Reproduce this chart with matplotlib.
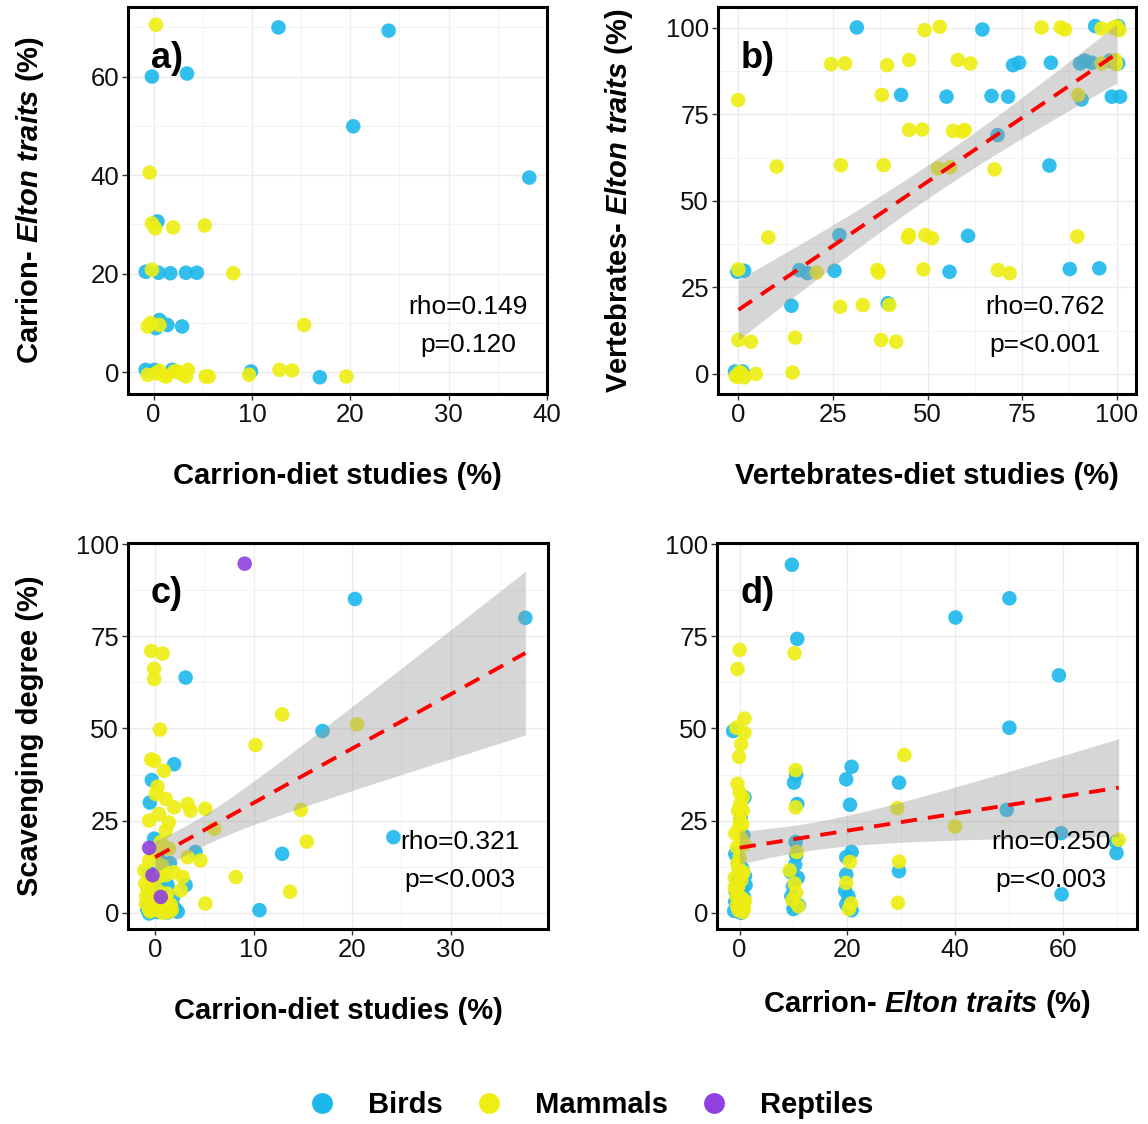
import numpy as np
import matplotlib
matplotlib.use("Agg")
import matplotlib.pyplot as plt
from matplotlib.lines import Line2D
from matplotlib.ticker import MultipleLocator

# ---------------- data (jittered as plotted) -------------
# Panel a: Carrion-diet studies (%) vs Carrion- Elton traits (%)
a_birds_x = [12.7, 23.9, -0.17, 3.4, 20.3, 38.2, 0.4, -0.8, 0.5, 1.7, 3.3, 4.4, 0.6, 0.24, 1.4, 2.9, -0.8, 0.1, 1.9, 9.9, 16.9]
a_birds_y = [69.97, 69.3, 60.0, 60.6, 49.9, 39.5, 30.6, 20.4, 20.2, 20.1, 20.2, 20.2, 10.6, 8.95, 9.6, 9.3, 0.5, 0.5, 0.5, 0.17, -1.0]
a_mamm_x = [0.24, -0.4, -0.17, 0.17, 2.0, 5.2, -0.17, 8.1, -0.6, -0.3, 0.6, 15.3, -0.6, 0.24, 1.27, 2.1, 3.3, 3.5, 5.3, 5.6, 9.7, 12.8, 14.1, 19.6, 0.6, 1.0, 2.4, 2.8]
a_mamm_y = [70.5, 40.5, 30.2, 29.2, 29.4, 29.8, 20.8, 20.1, 9.3, 10.0, 9.6, 9.6, -0.5, -0.2, -0.85, 0.17, -0.85, 0.5, -0.85, -0.85, -0.5, 0.5, 0.37, -0.85, 0.3, -0.6, 0.2, -0.3]

# Panel b: Vertebrates-diet studies (%) vs Vertebrates- Elton traits (%)
b_birds_x = [31.3, 64.5, 94.3, 100.4, 72.6, 74.2, 82.6, 90.3, 91.6, 93.4, 98.2, 100.4, 43.0, 55.0, 66.9, 71.3, 90.7, 98.7, 100.9,
             68.5, 82.2, 26.7, 60.7, -0.3, 1.5, 16.1, 18.3, 25.4, 55.8, 87.6, 95.4, 14.0, 39.5, -0.9, 1.1,
             0.5, -0.5, 100.2, 99.5]
b_birds_y = [100.1, 99.5, 100.5, 100.5, 89.2, 89.9, 89.9, 89.7, 90.5, 89.9, 90.5, 89.7, 80.6, 80.1, 80.3, 80.1, 79.3, 80.1, 80.1,
             69.0, 60.2, 40.1, 39.9, 29.5, 29.8, 30.0, 29.1, 29.8, 29.5, 30.3, 30.5, 19.7, 20.4, 0.7, 0.7,
             0.3, -0.3, 99.7, 90.2]
b_mamm_x = [49.2, 53.2, 80.1, 85.2, 86.3, 96.0, 99.1, 100.7, 24.5, 28.2, 39.3, 45.1, 58.0, 61.3, 96.0, 99.6, -0.1, 37.9, 89.8,
            45.1, 48.6, 56.7, 59.8, 59.1, 10.1, 27.1, 38.4, 52.7, 56.0, 67.7, 7.9, 44.8, 45.1, 49.4, 51.2, 89.6,
            0.0, 20.7, 36.7, 37.0, 48.9, 68.6, 71.7, 26.9, 32.9, 39.9, 0.0, 3.3, 15.0, 37.7, 41.7, -0.7, 1.5, 4.6, 14.3,
            0.3, -0.3, 0.8, 100.0, 99.8]
b_mamm_y = [99.3, 100.3, 100.1, 100.1, 99.5, 99.8, 100.0, 99.3, 89.5, 89.7, 89.2, 90.7, 90.7, 89.7, 89.7, 90.7, 79.1, 80.6, 80.6,
            70.5, 70.6, 70.2, 70.5, 70.0, 59.9, 60.3, 60.3, 59.4, 59.7, 59.1, 39.4, 39.4, 40.1, 40.1, 39.2, 39.7,
            30.2, 29.3, 30.0, 29.3, 30.2, 30.0, 29.1, 19.4, 19.9, 19.9, 9.8, 9.3, 10.5, 9.8, 9.3, -0.6, -1.0, 0.0, 0.4,
            0.5, -0.8, 0.2, 100.4, 89.5]

# Panel c: Carrion-diet studies (%) vs Scavenging degree (%)
c_birds_x = [20.3, 37.6, 3.1, 17.0, 1.93, -0.33, -0.54, -0.1, 4.1, 12.9, 0.75, 1.26, 3.1, 0.07, 1.26, -0.6, 2.3, 10.6, 24.2,
             -0.8, 0.2, 1.0, -0.3, 0.6, 1.8, -0.6, 0.9, 1.5, -0.2, 2.0, 0.4, 0.1, -0.7, 1.3]
c_birds_y = [85.1, 80.0, 63.8, 49.3, 40.3, 36.0, 29.9, 20.1, 16.5, 16.0, 12.4, 7.5, 7.5, 3.4, 1.6, -0.2, 0.3, 0.7, 20.5,
             1.0, 0.2, 0.5, 5.5, 8.8, 4.0, 11.0, 2.5, 13.5, 7.0, 1.2, 14.5, 1.5, 3.5, 0.1]
c_mamm_x = [-0.4, 0.75, -0.1, -0.1, 12.9, 0.5, 20.5, 10.2, -0.4, -0.1, 0.91, 0.24, 0.07, 1.08, 1.93, 3.3, 3.6, 5.1, 14.8, 0.4,
            -0.6, 1.4, 6.0, 1.08, 0.58, 1.4, 15.4, 3.3, 4.6, -0.6, -1.1, 1.08, 8.2, 2.8, 2.6, -0.77, 13.7, -0.94, 5.1, 0.24, 1.4,
            -0.5, 0.5, 1.7, -0.9, 0.1, 1.2, 0.7, -0.4, 0.0, 1.6, -1.0, 0.3, 1.9, 0.8, -0.2, 1.1, -0.6, 0.4]
c_mamm_y = [71.0, 70.3, 66.2, 63.4, 53.8, 49.7, 51.1, 45.5, 41.6, 41.2, 38.5, 34.2, 32.2, 30.9, 28.6, 29.5, 27.7, 28.2, 27.9, 26.8,
            25.0, 24.5, 22.8, 22.3, 19.2, 17.4, 19.3, 15.1, 14.2, 14.2, 11.5, 10.2, 9.7, 9.7, 6.1, 6.6, 5.7, 2.5, 2.5, 0.7, 0.3,
            0.4, 1.2, 0.8, 4.6, 3.0, 5.2, 12.8, 9.0, 16.0, 2.2, 8.0, 6.0, 11.0, 0.0, 2.0, 3.8, 0.8, 9.8]
c_rept_x = [9.1, -0.6, -0.26, 0.58]
c_rept_y = [94.7, 17.6, 10.2, 4.3]

# Panel d: Carrion- Elton traits (%) vs Scavenging degree (%)
d_birds_x = [9.7, 50.1, 40.1, 10.7, 59.3, 50.1, -1.2, 10.5, 10.1, 20.8, 19.8, 29.6, 0.9, 10.7, 20.5, 49.6, 59.7, 69.9, 70.0,
             10.4, 10.5, 20.8, 19.8, 29.6, 19.8, 9.9, 59.8, 10.2, 11.0, 19.8, 20.8, -0.8, 0.5, -0.5, 0.8, -0.3, 0.6,
             -0.8, 0.4, 1.0, -0.3, 0.7, -1.0, 0.2, 9.6, 10.8, 10.3, 20.2, 19.6,
             -0.7, 0.6, -0.2, 1.1, 0.3, 10.0, 9.5]
d_birds_y = [94.4, 85.3, 80.1, 74.3, 64.4, 50.2, 49.3, 37.4, 35.3, 39.6, 36.2, 35.3, 31.3, 29.5, 29.3, 27.9, 21.6, 19.2, 16.2,
             19.2, 15.6, 16.5, 15.1, 11.3, 10.4, 7.2, 5.0, 2.0, 2.0, 2.3, 0.7, 16.0, 12.0, 8.0, 4.3, 2.0, 1.0,
             3.0, 6.5, 10.0, 14.0, 21.0, 0.5, 26.0, 4.5, 9.5, 13.0, 4.5, 6.0,
             5.5, 2.8, 9.0, 7.5, 0.0, 1.0, 11.0]
d_mamm_x = [10.2, 0.0, -0.4, 0.9, -0.6, 0.9, 0.3, -0.1, 30.6, 10.4, 0.0, 0.6, -0.3, 0.6, 0.0, -0.2, 0.4, -0.5, 10.4, 29.3,
            40.0, 70.4, 20.5, 29.6, 9.3, 19.8, 10.2, 10.5, 29.4, 0.0, -0.4, 0.5, -0.6, 0.3, -0.2, 0.6,
            0.8, -0.6, 0.3, -0.2, 0.9, -0.8, 0.5, -0.4, 0.1, -0.9, 0.6, 9.8, 10.6, 20.7,
            -0.5, 0.4, -0.9, 0.7, 0.0, -0.3, 1.0, 10.9, 20.3]
d_mamm_y = [70.4, 71.3, 66.1, 52.7, 50.2, 48.8, 45.7, 42.3, 42.8, 38.7, 32.6, 31.3, 27.7, 27.7, 25.0, 22.8, 20.0, 17.8, 28.6, 28.4,
            23.4, 19.8, 13.8, 13.9, 11.5, 8.1, 7.9, 5.4, 2.7, 15.0, 13.3, 10.6, 6.1, 3.4, 0.7, 2.0,
            1.2, 4.5, 8.8, 12.0, 18.5, 21.5, 24.0, 35.0, 29.5, 9.5, 0.2, 3.5, 16.5, 2.5,
            2.0, 4.0, 6.8, 11.0, 1.5, 7.0, 3.2, 1.8, 1.0]

stats_text = {"a": ("rho=0.149", "p=0.120"), "b": ("rho=0.762", "p=<0.001"),
              "c": ("rho=0.321", "p=<0.003"), "d": ("rho=0.250", "p=<0.003")}
stats_xpos = {"a": 0.812, "b": 0.782, "c": 0.79, "d": 0.795}

# ---------------- style -------------------------------------------------------
plt.rcParams["font.family"] = "Liberation Sans"
plt.rcParams["mathtext.fontset"] = "custom"
plt.rcParams["mathtext.it"] = "Liberation Sans:italic:bold"
plt.rcParams["mathtext.rm"] = "Liberation Sans:bold"
plt.rcParams["mathtext.bf"] = "Liberation Sans:bold"

COL_B = "#1CB8EC"
COL_M = "#EEEE12"
COL_R = "#9040E0"
PT = 110
ALPHA = 0.9

W, H = 1148, 1124
fig = plt.figure(figsize=(W / 100, H / 100), dpi=100)


def px_axes(left, top, right, bottom):
    return fig.add_axes([left / W, 1 - bottom / H, (right - left) / W, (bottom - top) / H])


def style(ax, xlim, ylim, xmaj, ymaj):
    ax.set_xlim(*xlim)
    ax.set_ylim(*ylim)
    ax.xaxis.set_major_locator(MultipleLocator(xmaj))
    ax.yaxis.set_major_locator(MultipleLocator(ymaj))
    ax.xaxis.set_minor_locator(MultipleLocator(xmaj / 2))
    ax.yaxis.set_minor_locator(MultipleLocator(ymaj / 2))
    ax.grid(which="major", color="#EBEBEB", lw=1.0, zorder=0)
    ax.grid(which="minor", color="#F2F2F2", lw=0.7, zorder=0)
    ax.set_axisbelow(True)
    for s in ax.spines.values():
        s.set_linewidth(2.2)
        s.set_color("black")
    ax.tick_params(which="major", length=4, width=1.0, color="#333333",
                   labelsize=18.5, labelcolor="#111111", pad=2.5)
    ax.tick_params(which="minor", length=0)


def fit_band(ax, xs_list, ys_list):
    x = np.concatenate([np.asarray(v, float) for v in xs_list])
    y = np.concatenate([np.asarray(v, float) for v in ys_list])
    n = len(x)
    slope, inter = np.polyfit(x, y, 1)
    resid = y - (inter + slope * x)
    s = np.sqrt(np.sum(resid ** 2) / (n - 2))
    xbar = x.mean()
    sxx = np.sum((x - xbar) ** 2)
    z = 1.96
    df = n - 2
    t = z + (z ** 3 + z) / (4 * df)
    lo = max(x.min(), 0.0)
    hi = min(x.max(), 100.0)
    xx = np.linspace(lo, hi, 200)
    yy = inter + slope * xx
    se = s * np.sqrt(1.0 / n + (xx - xbar) ** 2 / sxx)
    ax.fill_between(xx, yy - t * se, yy + t * se, color="#999999", alpha=0.4, lw=0, zorder=4)
    ax.plot(xx, yy, color="#FF0000", lw=2.8, ls=(0, (4.2, 2.8)), zorder=5, solid_capstyle="butt")


def scatter(ax, x, y, c):
    ax.scatter(x, y, s=PT, color=c, alpha=ALPHA, edgecolors="none", zorder=3)


def annotate(ax, key, label):
    ax.text(0.055, 0.868, label, transform=ax.transAxes, fontsize=26, fontweight="bold",
            ha="left", va="center", zorder=6)
    r, p = stats_text[key]
    xp = stats_xpos[key]
    ax.text(xp, 0.225, r, transform=ax.transAxes, fontsize=19, ha="center", va="center", zorder=6)
    ax.text(xp, 0.127, p, transform=ax.transAxes, fontsize=19, ha="center", va="center", zorder=6)


LAB = dict(fontsize=21, fontweight="bold")
elton = lambda s: s + r"- $\mathit{Elton\ traits}$ (%)"

# panel a
ax = px_axes(128, 7, 547, 394)
style(ax, (-2.6, 40.0), (-4.4, 74.1), 10, 20)
scatter(ax, a_birds_x, a_birds_y, COL_B)
scatter(ax, a_mamm_x, a_mamm_y, COL_M)
annotate(ax, "a", "a)")
ax.set_xlabel("Carrion-diet studies (%)", labelpad=25, **LAB)
ax.set_ylabel(elton("Carrion"), labelpad=32, **LAB)

# panel b
ax = px_axes(718, 7, 1136, 394)
style(ax, (-5.4, 105.1), (-5.8, 106.0), 25, 25)
scatter(ax, b_birds_x, b_birds_y, COL_B)
scatter(ax, b_mamm_x, b_mamm_y, COL_M)
fit_band(ax, [b_birds_x, b_mamm_x], [b_birds_y, b_mamm_y])
annotate(ax, "b", "b)")
ax.set_xlabel("Vertebrates-diet studies (%)", labelpad=25, **LAB)
ax.set_ylabel(elton("Vertebrates"), labelpad=22, **LAB)

# panel c
ax = px_axes(128, 543, 548, 929)
style(ax, (-2.75, 39.9), (-4.4, 100.3), 10, 25)
scatter(ax, c_birds_x, c_birds_y, COL_B)
scatter(ax, c_mamm_x, c_mamm_y, COL_M)
scatter(ax, c_rept_x, c_rept_y, COL_R)
fit_band(ax, [c_birds_x, c_mamm_x, c_rept_x], [c_birds_y, c_mamm_y, c_rept_y])
annotate(ax, "c", "c)")
ax.set_xlabel("Carrion-diet studies (%)", labelpad=25, **LAB)
ax.set_ylabel("Scavenging degree (%)", labelpad=23, **LAB)

# panel d
ax = px_axes(717, 543, 1137, 929)
style(ax, (-4.2, 73.8), (-4.4, 100.3), 20, 25)
scatter(ax, d_birds_x, d_birds_y, COL_B)
scatter(ax, d_mamm_x, d_mamm_y, COL_M)
fit_band(ax, [d_birds_x, d_mamm_x], [d_birds_y, d_mamm_y])
annotate(ax, "d", "d)")
ax.set_xlabel(elton("Carrion"), labelpad=19, **LAB)

# legend
handles = [Line2D([], [], ls="none", marker="o", markersize=15, markerfacecolor=c, markeredgecolor="none")
           for c in (COL_B, COL_M, COL_R)]
fig.legend(handles, ["Birds", "Mammals", "Reptiles"], loc="center", bbox_to_anchor=(583 / W, 1 - 1105 / H),
           ncol=3, frameon=False, handlelength=2.0, handletextpad=0.56, columnspacing=0.6,
           prop=dict(family="Liberation Sans", weight="bold", size=21))

fig.savefig("out.png", dpi=100)
